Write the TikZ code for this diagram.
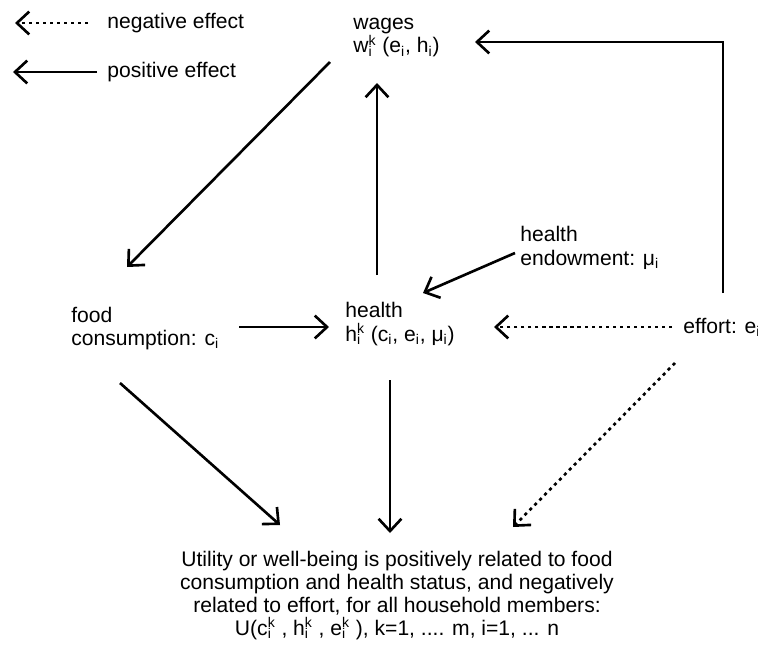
\documentclass[tikz,border=0pt]{standalone}
\usepackage{fontspec}
\setmainfont{Liberation Sans}
\usetikzlibrary{arrows.meta}
\newcommand{\kidx}[2]{\rlap{\textsubscript{#2}}\textsuperscript{#1}}
\begin{document}
\begin{tikzpicture}[x=0.02cm, y=-0.02cm,
	every node/.style={inner sep=0pt, font=\fontsize{12}{13.5}\selectfont},
	posarrow/.style={line width=1.5pt, -{Straight Barb[length=7pt, width=13pt]}},
	negarrow/.style={posarrow, dash pattern=on 1.8pt off 2.2pt}]
	\useasboundingbox (0,0) rectangle (758,646);
	\node (negtxt) [anchor=west] at (107,23) {negative effect};
	\node (postxt) [anchor=west] at (107,72) {positive effect};
	\node (wages) [anchor=west, align=left] at (353,37.5) {wages\\w\kidx{k}{i} (e\textsubscript{i}, h\textsubscript{i})};
	\node (food) [anchor=west, align=left] at (71,328.5) {food\\consumption: c\textsubscript{i}};
	\node (health) [anchor=west, align=left] at (345,324) {health\\h\kidx{k}{i} (c\textsubscript{i}, e\textsubscript{i}, μ\textsubscript{i})};
	\node (endow) [anchor=west, align=left] at (520,248) {health\\endowment: μ\textsubscript{i}};
	\node (effort) [anchor=west] at (683,327) {effort: e\textsubscript{i}};
	\node (utility) [align=center, font=\fontsize{12}{13}\selectfont] at (397,595.5) {Utility or well-being is positively related to food\\consumption and health status, and negatively\\related to effort, for all household members:\\U(c\kidx{k}{i} , h\kidx{k}{i} , e\kidx{k}{i} ), k=1, .... m, i=1, ... n};
	\draw[negarrow] ([shift={(-19,0)}]negtxt.west) -- ([shift={(-92,0)}]negtxt.west);
	\draw[posarrow] ([shift={(-10,0)}]postxt.west) -- ([shift={(-94,0)}]postxt.west);
	\draw[posarrow] ([shift={(-23,24.5)}]wages.west) -- ([shift={(56,-61.5)}]food.west);
	\draw[posarrow] ([shift={(32,-49)}]health.west) -- ([shift={(24,45.5)}]wages.west);
	\draw[posarrow] ([shift={(-5,5)}]endow.west) -- ([shift={(78,-31)}]health.west);
	\draw[posarrow] ([shift={(168,-1.5)}]food.west) -- ([shift={(-16,3)}]health.west);
	\draw[negarrow] ([shift={(-11,0)}]effort.west) -- ([shift={(149,3)}]health.west);
	\draw[posarrow] ([shift={(40,-34)}]effort.west) |- ([shift={(122,4.5)}]wages.west);
	\draw[posarrow] ([shift={(49,54.5)}]food.west) -- ([shift={(-117,-70.5)}]utility.center);
	\draw[posarrow] ([shift={(45,56)}]health.west) -- ([shift={(-7,-62.5)}]utility.center);
	\draw[negarrow] ([shift={(-8,36)}]effort.west) -- ([shift={(116,-68.5)}]utility.center);
\end{tikzpicture}
\end{document}
